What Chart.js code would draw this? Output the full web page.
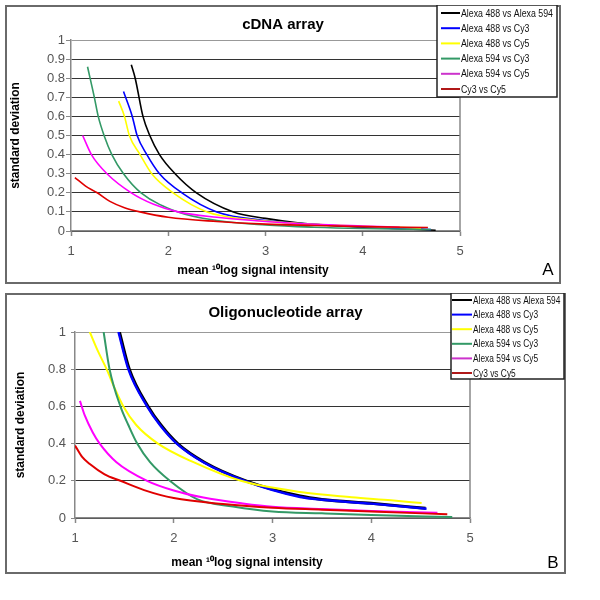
<!DOCTYPE html>
<html><head><meta charset="utf-8">
<script src="https://cdn.jsdelivr.net/npm/chart.js@4"></script>
<style>
html,body{margin:0;padding:0;background:#fff;width:600px;height:600px;overflow:hidden;}
canvas{position:absolute;}
#cA{left:5px;top:5px;}
#cB{left:5px;top:293px;}
</style></head><body>
<canvas id="cA" width="556" height="279"></canvas>
<canvas id="cB" width="561" height="281"></canvas>
<script>
// ---------- data ----------
const seriesLabels = ['Alexa 488 vs Alexa 594','Alexa 488 vs Cy3','Alexa 488 vs Cy5','Alexa 594 vs Cy3','Alexa 594 vs Cy5','Cy3 vs Cy5'];
const seriesColors = ['#000000','#0000ff','#ffff00','#339966','#ff00ff','#e00000'];
const legendColors = ['#000000','#0000ff','#ffff00','#339966','#cc33cc','#b01818'];

const titleA = 'cDNA array';
const titleB = 'Oligonucleotide array';
const xAxisTitle = 'mean \u00b9\u2070log signal intensity';
const yAxisTitle = 'standard deviation';
const xTicks = [1,2,3,4,5];
const yTicksA = [0,0.1,0.2,0.3,0.4,0.5,0.6,0.7,0.8,0.9,1];
const yTicksB = [0,0.2,0.4,0.6,0.8,1];

// panel A (cDNA array): [mean log intensity, standard deviation]
const cdnaA488A594 = [[1.62,0.87],[1.66,0.8],[1.74,0.6],[1.81,0.5],[1.91,0.4],[2.07,0.3],[2.29,0.2],[2.67,0.1],[3.0,0.066],[3.35,0.042],[3.8,0.025],[4.3,0.014],[4.75,0.004]];
const cdnaA488Cy3  = [[1.54,0.73],[1.63,0.6],[1.68,0.5],[1.78,0.4],[1.91,0.3],[2.14,0.2],[2.5,0.1],[3.0,0.055],[3.5,0.035],[4.0,0.022],[4.5,0.012],[4.7,0.008]];
const cdnaA488Cy5  = [[1.49,0.68],[1.55,0.6],[1.6,0.5],[1.71,0.4],[1.83,0.3],[2.05,0.2],[2.4,0.1],[2.8,0.062],[3.5,0.035],[4.0,0.025],[4.6,0.015]];
const cdnaA594Cy3  = [[1.17,0.86],[1.24,0.7],[1.28,0.6],[1.34,0.5],[1.42,0.4],[1.54,0.3],[1.72,0.2],[2.1,0.1],[2.5,0.055],[3.0,0.032],[3.5,0.02],[4.0,0.013],[4.7,0.008]];
const cdnaA594Cy5  = [[1.12,0.5],[1.21,0.4],[1.37,0.3],[1.62,0.2],[1.85,0.14],[2.1,0.1],[2.5,0.072],[3.0,0.05],[3.5,0.035],[4.0,0.026],[4.38,0.02]];
const cdnaCy3Cy5   = [[1.04,0.28],[1.15,0.235],[1.27,0.2],[1.4,0.155],[1.55,0.122],[1.71,0.1],[2.0,0.072],[2.5,0.05],[3.0,0.036],[3.5,0.029],[4.0,0.023],[4.67,0.018]];

// panel B (oligonucleotide array)
const oligoA488A594 = [[1.45,1.0],[1.55,0.8],[1.74,0.6],[1.87,0.5],[2.04,0.4],[2.31,0.3],[2.73,0.2],[3.28,0.118],[3.5,0.1],[4.0,0.079],[4.55,0.052]];
const oligoA488Cy3  = [[1.44,1.0],[1.54,0.8],[1.73,0.6],[1.86,0.5],[2.03,0.4],[2.3,0.3],[2.72,0.2],[3.28,0.113],[3.5,0.098],[4.0,0.077],[4.56,0.05]];
const oligoA488Cy5  = [[1.15,1.0],[1.23,0.9],[1.32,0.8],[1.4,0.7],[1.49,0.6],[1.62,0.5],[1.84,0.4],[2.2,0.3],[2.68,0.2],[3.28,0.14],[3.8,0.112],[4.2,0.095],[4.51,0.08]];
const oligoA594Cy3  = [[1.29,1.0],[1.35,0.8],[1.46,0.6],[1.54,0.5],[1.63,0.4],[1.76,0.3],[1.96,0.2],[2.24,0.1],[2.6,0.062],[3.0,0.035],[3.5,0.025],[4.0,0.016],[4.82,0.005]];
const oligoA594Cy5  = [[1.05,0.63],[1.1,0.55],[1.18,0.46],[1.25,0.4],[1.42,0.3],[1.73,0.2],[2.0,0.148],[2.3,0.11],[2.7,0.078],[3.0,0.06],[3.5,0.048],[4.0,0.038],[4.67,0.028]];
const oligoCy3Cy5   = [[1.0,0.39],[1.07,0.33],[1.15,0.29],[1.3,0.235],[1.46,0.2],[1.7,0.15],[2.0,0.107],[2.5,0.075],[3.0,0.055],[3.5,0.045],[4.0,0.035],[4.77,0.02]];

const cdnaSeries  = [cdnaA488A594, cdnaA488Cy3, cdnaA488Cy5, cdnaA594Cy3, cdnaA594Cy5, cdnaCy3Cy5];
const oligoSeries = [oligoA488A594, oligoA488Cy3, oligoA488Cy5, oligoA594Cy3, oligoA594Cy5, oligoCy3Cy5];

// ---------- drawing ----------
function decorPlugin(p) {
  return {
    id: 'decor',
    afterDraw(chart) {
      const ctx = chart.ctx, W = chart.width, H = chart.height, ca = chart.chartArea;
      ctx.save();
      // plot area right border
      ctx.strokeStyle = '#888'; ctx.lineWidth = 1.5;
      ctx.beginPath(); ctx.moveTo(ca.right, ca.top); ctx.lineTo(ca.right, ca.bottom); ctx.stroke();
      // panel border
      ctx.strokeStyle = '#6a6a6a'; ctx.lineWidth = 2;
      ctx.strokeRect(1, 1, W - 2, H - 2);
      // title
      ctx.fillStyle = '#000'; ctx.textAlign = 'center'; ctx.textBaseline = 'middle';
      ctx.font = 'bold 15px "Liberation Sans", Arial, sans-serif';
      ctx.fillText(p.title, W / 2, p.titleY);
      // x axis title
      ctx.font = 'bold 12px "Liberation Sans", Arial, sans-serif';
      ctx.fillText(xAxisTitle, p.xTitleX, p.xTitleY);
      // panel letter
      ctx.font = '17px "Liberation Sans", Arial, sans-serif';
      ctx.fillText(p.letter, p.letterX, p.letterY);
      // legend
      const L = p.legend;
      ctx.fillStyle = '#fff';
      ctx.fillRect(L.x, L.y, L.w, L.h);
      ctx.strokeStyle = '#222'; ctx.lineWidth = 1.5;
      ctx.strokeRect(L.x, L.y, L.w, L.h);
      ctx.font = '11px "Liberation Sans", Arial, sans-serif';
      ctx.textAlign = 'left';
      chart.data.datasets.forEach((ds, i) => {
        const y = L.rowY0 + i * L.rowStep;
        ctx.strokeStyle = legendColors[i]; ctx.lineWidth = 2;
        ctx.beginPath(); ctx.moveTo(L.sx0, y); ctx.lineTo(L.sx1, y); ctx.stroke();
        ctx.fillStyle = '#111';
        const w = ctx.measureText(ds.label).width * L.squeeze;
        ctx.fillText(ds.label, L.tx, y + 0.5, w);
      });
      ctx.restore();
    }
  };
}

function makePanel(canvas, series, yTicks, p) {
  const datasets = series.map((pts, i) => ({
    label: seriesLabels[i],
    data: pts.map(([x, y]) => ({x, y})),
    borderColor: seriesColors[i],
    backgroundColor: seriesColors[i],
    borderWidth: p.lineWidths[i],
    pointRadius: 0,
    showLine: true,
    fill: false,
    cubicInterpolationMode: 'monotone',
    order: series.length - i
  }));
  return new Chart(canvas, {
    type: 'scatter',
    data: { datasets },
    options: {
      responsive: false,
      animation: false,
      layout: { padding: { left: 0, top: p.top, right: p.right, bottom: 0 } },
      plugins: { legend: { display: false }, tooltip: { enabled: false }, title: { display: false } },
      scales: {
        x: {
          type: 'linear', min: 1, max: 5,
          afterBuildTicks: s => { s.ticks = xTicks.map(v => ({ value: v })); },
          afterFit: s => { s.height = p.xHeight; },
          ticks: { callback: v => String(v), font: { size: 13, family: '"Liberation Sans", Arial, sans-serif' }, color: '#555', padding: p.xPad, maxRotation: 0 },
          grid: { drawOnChartArea: false, drawTicks: true, tickLength: 5, tickColor: '#888', tickWidth: 1.5 },
          border: { color: '#888', width: 1.5 },
          title: { display: false }
        },
        y: {
          type: 'linear', min: 0, max: 1,
          afterBuildTicks: s => { s.ticks = yTicks.map(v => ({ value: v })); },
          afterFit: s => { s.width = p.yWidth; },
          ticks: { callback: v => String(v), font: { size: 13, family: '"Liberation Sans", Arial, sans-serif' }, color: '#555', padding: p.yPad },
          grid: {
            color: c => (c.tick && c.tick.value === 1) ? '#999' : '#333',
            lineWidth: 1, drawTicks: true, tickLength: p.yTickLen, tickColor: '#888'
          },
          border: { color: '#888', width: 1.5 },
          title: { display: true, text: yAxisTitle, color: '#000', font: { size: 12, weight: 'bold', family: '"Liberation Sans", Arial, sans-serif' }, padding: { top: p.yTitlePad, bottom: 0 } }
        }
      }
    },
    plugins: [decorPlugin(p)]
  });
}

makePanel(document.getElementById('cA'), cdnaSeries, yTicksA, {
  title: titleA, titleY: 20, letter: 'A', letterX: 543, letterY: 265,
  xTitleX: 248, xTitleY: 266,
  top: 35, right: 101, xHeight: 53, yWidth: 66, xPad: 8, yPad: 1, yTickLen: 5, yTitlePad: 3,
  lineWidths: [1.6, 1.6, 1.6, 1.6, 1.6, 1.6],
  legend: { x: 432, y: 0, w: 120, h: 92, rowY0: 8, rowStep: 15.2, sx0: 436, sx1: 455, tx: 456, squeeze: 0.8 }
});

makePanel(document.getElementById('cB'), oligoSeries, yTicksB, {
  title: titleB, titleY: 20, letter: 'B', letterX: 548, letterY: 270,
  xTitleX: 242, xTitleY: 270,
  top: 39, right: 96, xHeight: 56, yWidth: 70, xPad: 8, yPad: 5, yTickLen: 4, yTitlePad: 8,
  lineWidths: [3, 2.4, 2, 2, 2, 2],
  legend: { x: 446, y: 0, w: 113, h: 86, rowY0: 7, rowStep: 14.6, sx0: 447, sx1: 467, tx: 468, squeeze: 0.76 }
});
</script>
</body></html>
